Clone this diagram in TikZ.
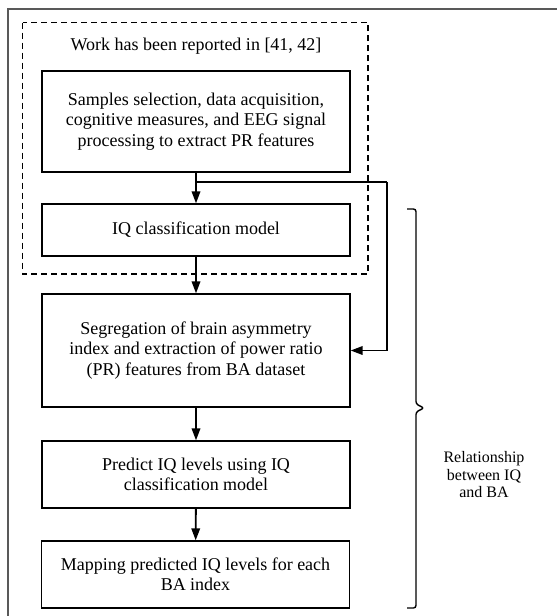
\documentclass[tikz,border=0pt]{standalone}
\usepackage{fontspec}
\setmainfont{Liberation Serif}
\usetikzlibrary{arrows.meta}
\begin{document}
\begin{tikzpicture}[x=1pt,y=-1pt,
  every node/.style={font=\fontsize{18}{20.3}\selectfont},
  box/.style={draw=black,line width=1.3pt,minimum width=308pt,align=center,inner sep=0pt},
  arr/.style={line width=1.9pt,-{Triangle[length=12pt,width=8.5pt]}},
  frame/.style={draw=black!65,line width=1.6pt}]
\useasboundingbox (0,0) rectangle (557,616);
\draw[frame] (557,9) -- (8,9) -- (8,616);
\draw[line width=1.2pt,dash pattern=on 6pt off 4pt] (22.5,22.5) rectangle (368,274);
\node (title) at (196,46) {Work has been reported in [41, 42]};
\node[box,minimum height=101pt] (b1) at (196,121.5) {Samples selection, data acquisition,\\cognitive measures, and EEG signal\\processing to extract PR features};
\node[box,minimum height=52pt] (b2) at (196,230) {IQ classification model};
\node[box,minimum height=113pt] (b3) at (196,350.5) {Segregation of brain asymmetry\\index and extraction of power ratio\\(PR) features from BA dataset};
\node[box,minimum height=67pt] (b4) at (196,474.5) {Predict IQ levels using IQ\\classification model};
\node[box,minimum height=67pt] (b5) at (195.5,574.5) {Mapping predicted IQ levels for each\\BA index};
\coordinate (br) at (196,182);
\coordinate (rt) at (387,182);
\draw[arr] (b1) -- (b2);
\draw[line width=1.9pt] (br) -- (rt);
\draw[arr] (rt) |- (b3.east);
\draw[arr] (b2) -- (b3);
\draw[arr] (b3) -- (b4);
\draw[arr] (b4) -- (b5);
\draw[line width=1.4pt,rounded corners=2.5pt] (407,209) -- (416,209) -- (416,404) -- (424,408) -- (416,412) -- (416,608) -- (407,608);
\node[align=center,font=\fontsize{16}{17.5}\selectfont] (rel) at (484,475) {Relationship\\between IQ\\and BA};
\end{tikzpicture}
\end{document}
